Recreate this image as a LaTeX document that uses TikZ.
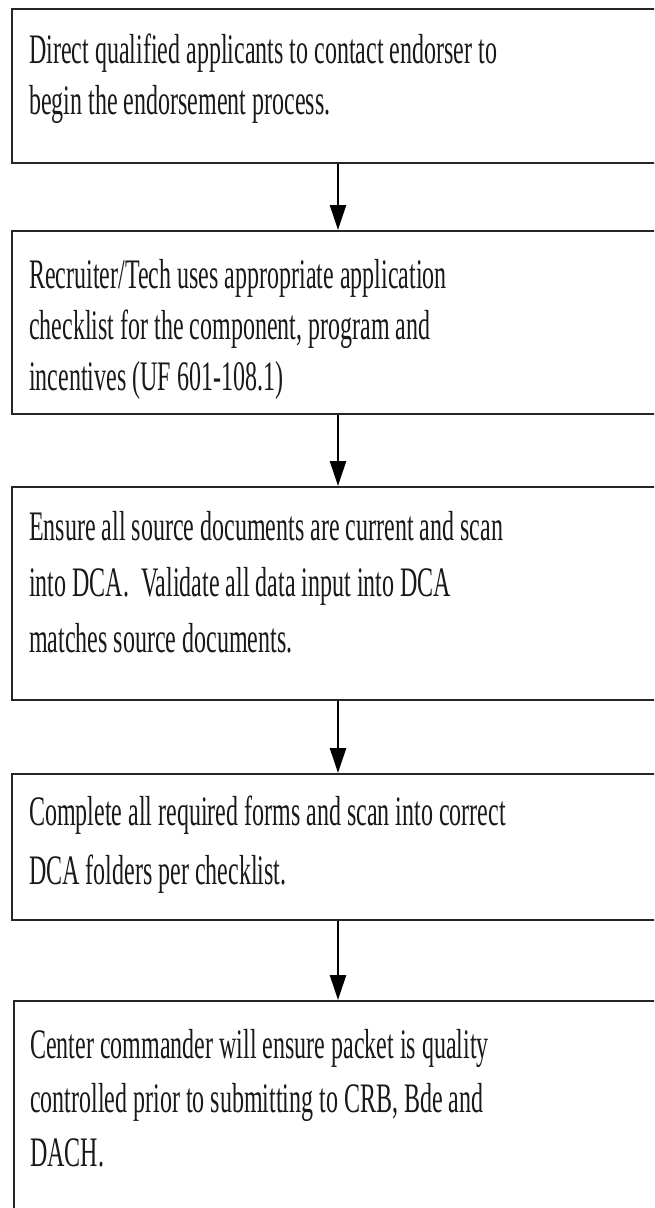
\documentclass[tikz,border=0pt]{standalone}
\usepackage{fontspec}
\setmainfont{Liberation Serif}
\usetikzlibrary{arrows.meta}
\newcommand\mltext[2]{\scalebox{1}[1.75]{\vtop{\baselineskip=#1\lineskiplimit=-10pt #2}}}
\tikzset{
  stepbox/.style={draw=black!85, line width=2.4pt, rectangle, anchor=north west,
    inner sep=0pt, minimum width=700pt},
  txt/.style={anchor=base west, inner sep=0pt, text=black!90,
    font=\fontsize{24}{29}\selectfont},
  flow/.style={draw=black, line width=2.5pt, -{Triangle[length=25pt,width=16pt]}}
}
\begin{document}
\begin{tikzpicture}[x=1pt,y=-1pt]
\useasboundingbox (0,0) rectangle (654,1208);
\begin{scope}
\clip (0,0) rectangle (654,1208);
\fill[white] (0,0) rectangle (654,1208);
\node (b1) [stepbox, minimum height=154.5pt] at (10.5,7.5) {};
\node (b2) [stepbox, minimum height=183pt] at (10.5,230) {};
\node (b3) [stepbox, minimum height=213pt] at (10.5,486) {};
\node (b4) [stepbox, minimum height=146pt] at (10.5,773) {};
\node (b5) [stepbox, minimum height=300pt] at (13,1000) {};
\coordinate (ax) at (338,0);

\node (t1) [txt] at (29,63) {\mltext{29.7pt}{\hbox{Direct qualified applicants to contact endorser to}\hbox{begin the endorsement process.}}};
\node (t2) [txt] at (29,288) {\mltext{29.4pt}{\hbox{Recruiter/Tech uses appropriate application}\hbox{checklist for the component, program and}\hbox{incentives (UF 601-108.1)}}};
\node (t3) [txt] at (29,540) {\mltext{32pt}{\hbox{Ensure all source documents are current and scan}\hbox{into DCA.\ \ Validate all data input into DCA}\hbox{matches source documents.}}};
\node (t4) [txt] at (29,825) {\mltext{34pt}{\hbox{Complete all required forms and scan into correct}\hbox{DCA folders per checklist.}}};
\node (t5) [txt] at (30,1058) {\mltext{30.9pt}{\hbox{Center commander will ensure packet is quality}\hbox{controlled prior to submitting to CRB, Bde and}\hbox{DACH.}}};

\draw[flow] (b1.south -| ax) -- (b2.north -| ax);
\draw[flow] (b2.south -| ax) -- (b3.north -| ax);
\draw[flow] (b3.south -| ax) -- (b4.north -| ax);
\draw[flow] (b4.south -| ax) -- (b5.north -| ax);
\end{scope}
\end{tikzpicture}
\end{document}
